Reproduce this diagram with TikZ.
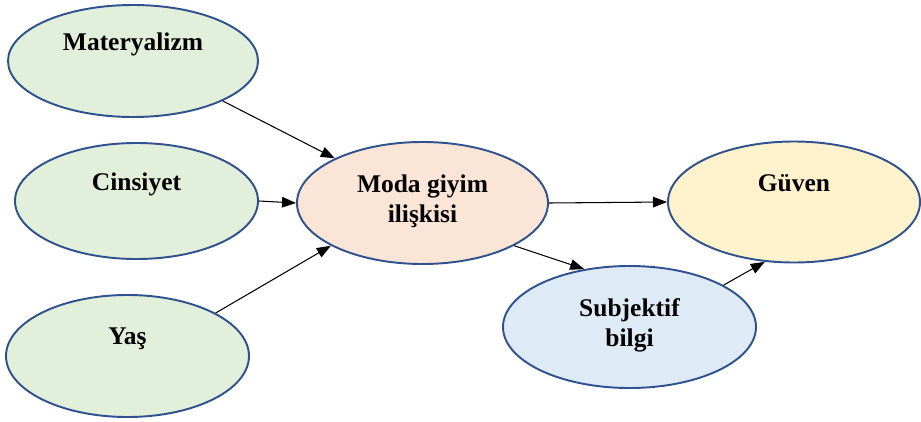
\documentclass[tikz,border=0pt]{standalone}
\usepackage{fontspec}
\setmainfont{Liberation Serif}
\usetikzlibrary{shapes.geometric,arrows.meta}

\definecolor{contour}{HTML}{2F528F}
\definecolor{vert}{HTML}{E2EFDA}
\definecolor{peche}{HTML}{FBE5D6}
\definecolor{jaune}{HTML}{FFF2CC}
\definecolor{bleu}{HTML}{DEEBF7}

\begin{document}
\begin{tikzpicture}[
	bulle/.style={ellipse,draw=contour,line width=1.1pt,inner sep=0pt,align=center,
		font=\bfseries\fontsize{14.5}{17}\selectfont},
	fleche/.style={-{Triangle[length=8pt,width=6pt]},line width=0.6pt}]

\useasboundingbox (0,0) rectangle (18.42,8.42);

% variables à gauche
\node[bulle,fill=vert,minimum width=5cm,minimum height=2.24cm] (mat) at (2.66,7.20) {Materyalizm\\\strut};
\node[bulle,fill=vert,minimum width=4.86cm,minimum height=2.32cm] (cins) at (2.73,4.40) {Cinsiyet\\\strut};
\node[bulle,fill=vert,minimum width=4.86cm,minimum height=2.44cm] (yas) at (2.55,1.30) {Yaş\\\strut};

% variable centrale
\node[bulle,fill=peche,minimum width=5.02cm,minimum height=2.44cm] (moda) at (8.45,4.36) {Moda giyim\\ilişkisi\strut};

% variables à droite
\node[bulle,fill=jaune,minimum width=5.04cm,minimum height=2.42cm] (guven) at (15.88,4.38) {Güven\\\strut};
\node[bulle,fill=bleu,minimum width=5.06cm,minimum height=2.44cm] (subj) at (12.59,1.88) {Subjektif\\bilgi\strut};

% flèches
\draw[fleche] (mat.-24.5) -- (moda.153.3);
\draw[fleche] (cins.east) -- (moda.west);
\draw[fleche] (yas.26.2) -- (moda.205.1);
\draw[fleche] (moda.east) -- (guven.west);
\draw[fleche] (moda.-25.7) -- (subj.128);
\draw[fleche] (subj.24.9) -- (guven.244);

\end{tikzpicture}
\end{document}
